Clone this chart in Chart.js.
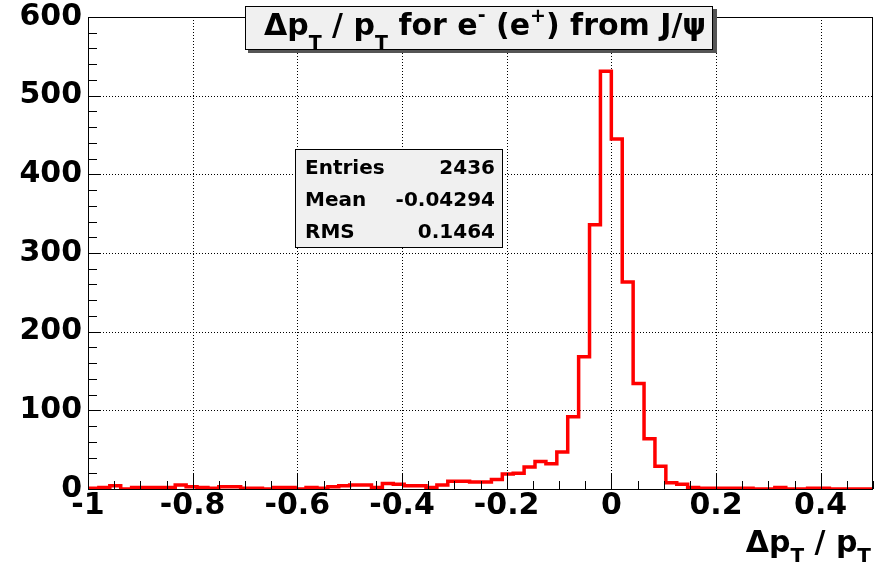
<!DOCTYPE html>
<html>
<head>
<meta charset="utf-8">
<title>pT resolution for J/psi electrons</title>
<script src="https://cdn.jsdelivr.net/npm/chart.js@4.4.1/dist/chart.umd.min.js"></script>
<style>
	html, body { margin: 0; padding: 0; background: #ffffff; }
	#histo { display: block; }
</style>
</head>
<body>
<canvas id="histo" width="879" height="567"></canvas>
<script>
// histogram range, 72 equal bins
var binLow = -1;
var binHigh = 0.5;
var binCounts = [
	1, 2, 4, 0, 2, 2, 2, 2, 5, 3,
	2, 1, 3, 3, 1, 1, 0, 2, 2, 0,
	2, 1, 3, 4, 5, 5, 2, 7, 6, 4,
	4, 2, 5, 10, 10, 9, 9, 12, 19, 20,
	28, 35, 32, 47, 92, 168, 336, 531, 445, 263,
	134, 64, 29, 8, 6, 2, 1, 1, 1, 1,
	1, 0, 0, 2, 0, 0, 1, 1, 0, 0,
	0, 0
];

var xTickValues = [-1, -0.8, -0.6, -0.4, -0.2, 0, 0.2, 0.4];
var yTickValues = [0, 100, 200, 300, 400, 500, 600];

var statNames = ['Entries', 'Mean', 'RMS'];
var statValues = ['2436', '-0.04294', '0.1464'];

var FONT = '"DejaVu Sans", sans-serif';

// step points at the left edge of every bin, plus the closing edge
var binWidth = (binHigh - binLow) / binCounts.length;
var histPoints = binCounts.map(function (c, i) {
	return { x: binLow + i * binWidth, y: c };
});
histPoints.push({ x: binHigh, y: binCounts[binCounts.length - 1] });

// draws a run of text pieces (normal, sub- and superscripts) from x on baseline y
function textRun(ctx, pieces, x, y) {
	pieces.forEach(function (p) {
		ctx.font = 'bold ' + p.size + 'px ' + FONT;
		ctx.fillText(p.t, x, y + (p.dy || 0));
		x += ctx.measureText(p.t).width;
	});
	return x;
}

function runWidth(ctx, pieces) {
	var w = 0;
	pieces.forEach(function (p) {
		ctx.font = 'bold ' + p.size + 'px ' + FONT;
		w += ctx.measureText(p.t).width;
	});
	return w;
}

function hline(ctx, x1, x2, y) {
	ctx.beginPath(); ctx.moveTo(x1, y); ctx.lineTo(x2, y); ctx.stroke();
}
function vline(ctx, x, y1, y2) {
	ctx.beginPath(); ctx.moveTo(x, y1); ctx.lineTo(x, y2); ctx.stroke();
}

var rootStyle = {
	id: 'rootStyle',
	beforeDatasetsDraw: function (chart) {
		var ctx = chart.ctx, a = chart.chartArea;
		var xs = chart.scales.x, ys = chart.scales.y;
		ctx.save();
		ctx.strokeStyle = '#000';
		ctx.lineWidth = 1;
		ctx.setLineDash([1, 2]);
		xTickValues.forEach(function (v) {
			var px = Math.round(xs.getPixelForValue(v)) + 0.5;
			if (px > a.left + 2) vline(ctx, px, a.top, a.bottom);
		});
		yTickValues.forEach(function (v) {
			var py = Math.round(ys.getPixelForValue(v)) + 0.5;
			if (py > a.top + 2 && py < a.bottom - 2) hline(ctx, a.left, a.right, py);
		});
		ctx.restore();
	},
	afterDatasetsDraw: function (chart) {
		var ctx = chart.ctx, a = chart.chartArea;
		var xs = chart.scales.x, ys = chart.scales.y;
		var i, j, v, px, py;
		ctx.save();

		// frame
		ctx.strokeStyle = '#000';
		ctx.lineWidth = 1;
		ctx.strokeRect(a.left + 0.5, a.top + 0.5, a.right - a.left - 1, a.bottom - a.top);

		// ticks on the bottom axis, 3 minor per major
		for (i = 0; i < xTickValues.length; i++) {
			px = Math.round(xs.getPixelForValue(xTickValues[i])) + 0.5;
			vline(ctx, px, a.bottom, a.bottom - 16);
			for (j = 1; j <= 3; j++) {
				v = xTickValues[i] + j * 0.05;
				if (v > binHigh) break;
				px = Math.round(xs.getPixelForValue(v)) + 0.5;
				vline(ctx, px, a.bottom, a.bottom - 8);
			}
		}
		// ticks on the left axis, 4 minor per major
		for (i = 0; i < yTickValues.length; i++) {
			py = Math.round(ys.getPixelForValue(yTickValues[i])) + 0.5;
			hline(ctx, a.left, a.left + 13, py);
			if (i === yTickValues.length - 1) break;
			for (j = 1; j <= 4; j++) {
				py = Math.round(ys.getPixelForValue(yTickValues[i] + j * 20)) + 0.5;
				hline(ctx, a.left, a.left + 9, py);
			}
		}

		// title box with shadow
		ctx.fillStyle = '#555';
		ctx.fillRect(248, 9, 469, 44);
		ctx.fillStyle = '#f0f0f0';
		ctx.fillRect(245, 6, 468, 44);
		ctx.strokeRect(245.5, 6.5, 467, 43);
		ctx.fillStyle = '#000';
		ctx.textBaseline = 'alphabetic';
		ctx.textAlign = 'left';
		textRun(ctx, [
			{ t: '\u0394p', size: 30 },
			{ t: 'T', size: 19, dy: 14 },
			{ t: ' / p', size: 30 },
			{ t: 'T', size: 19, dy: 14 },
			{ t: ' for e', size: 30 },
			{ t: '-', size: 19, dy: -14 },
			{ t: ' (e', size: 30 },
			{ t: '+', size: 19, dy: -13 },
			{ t: ') from J/\u03c8', size: 30 }
		], 264, 35);

		// statistics box
		ctx.fillStyle = '#f0f0f0';
		ctx.fillRect(295, 149, 208, 99);
		ctx.strokeRect(295.5, 149.5, 207, 98);
		ctx.fillStyle = '#000';
		ctx.font = 'bold 20px ' + FONT;
		for (i = 0; i < statNames.length; i++) {
			ctx.textAlign = 'left';
			ctx.fillText(statNames[i], 305, 174 + i * 32);
			ctx.textAlign = 'right';
			ctx.fillText(statValues[i], 495, 174 + i * 32);
		}

		// x axis title, right aligned to the frame
		ctx.textAlign = 'left';
		var axisTitle = [
			{ t: '\u0394p', size: 30 },
			{ t: 'T', size: 20, dy: 10 },
			{ t: ' / p', size: 30 },
			{ t: 'T', size: 20, dy: 10 }
		];
		textRun(ctx, axisTitle, a.right - 2 - runWidth(ctx, axisTitle), 552);

		ctx.restore();
	}
};

new Chart(document.getElementById('histo'), {
	type: 'line',
	data: {
		datasets: [{
			data: histPoints,
			stepped: 'before',
			borderColor: '#ff0000',
			borderWidth: 3.5,
			borderJoinStyle: 'miter',
			pointRadius: 0,
			fill: false
		}]
	},
	options: {
		responsive: false,
		animation: false,
		devicePixelRatio: 1,
		layout: { padding: { left: 0, top: 17, right: 6, bottom: 0 } },
		plugins: {
			legend: { display: false },
			tooltip: { enabled: false }
		},
		scales: {
			x: {
				type: 'linear',
				min: binLow,
				max: binHigh,
				grid: { display: false, drawTicks: false },
				border: { display: false },
				afterBuildTicks: function (scale) {
					scale.ticks = xTickValues.map(function (v) { return { value: v }; });
				},
				afterFit: function (scale) { scale.height = 78; },
				ticks: {
					autoSkip: false,
					maxRotation: 0,
					minRotation: 0,
					padding: 2,
					color: '#000',
					font: { family: FONT, size: 30, weight: 'bold', lineHeight: 1 },
					callback: function (v) { return String(v); }
				}
			},
			y: {
				min: 0,
				max: 600,
				grid: { display: false, drawTicks: false },
				border: { display: false },
				afterBuildTicks: function (scale) {
					scale.ticks = yTickValues.map(function (v) { return { value: v }; });
				},
				afterFit: function (scale) { scale.width = 88; },
				ticks: {
					padding: 6,
					color: '#000',
					font: { family: FONT, size: 30, weight: 'bold', lineHeight: 0.7 },
					callback: function (v) { return String(v); }
				}
			}
		}
	},
	plugins: [rootStyle]
});
</script>
</body>
</html>
